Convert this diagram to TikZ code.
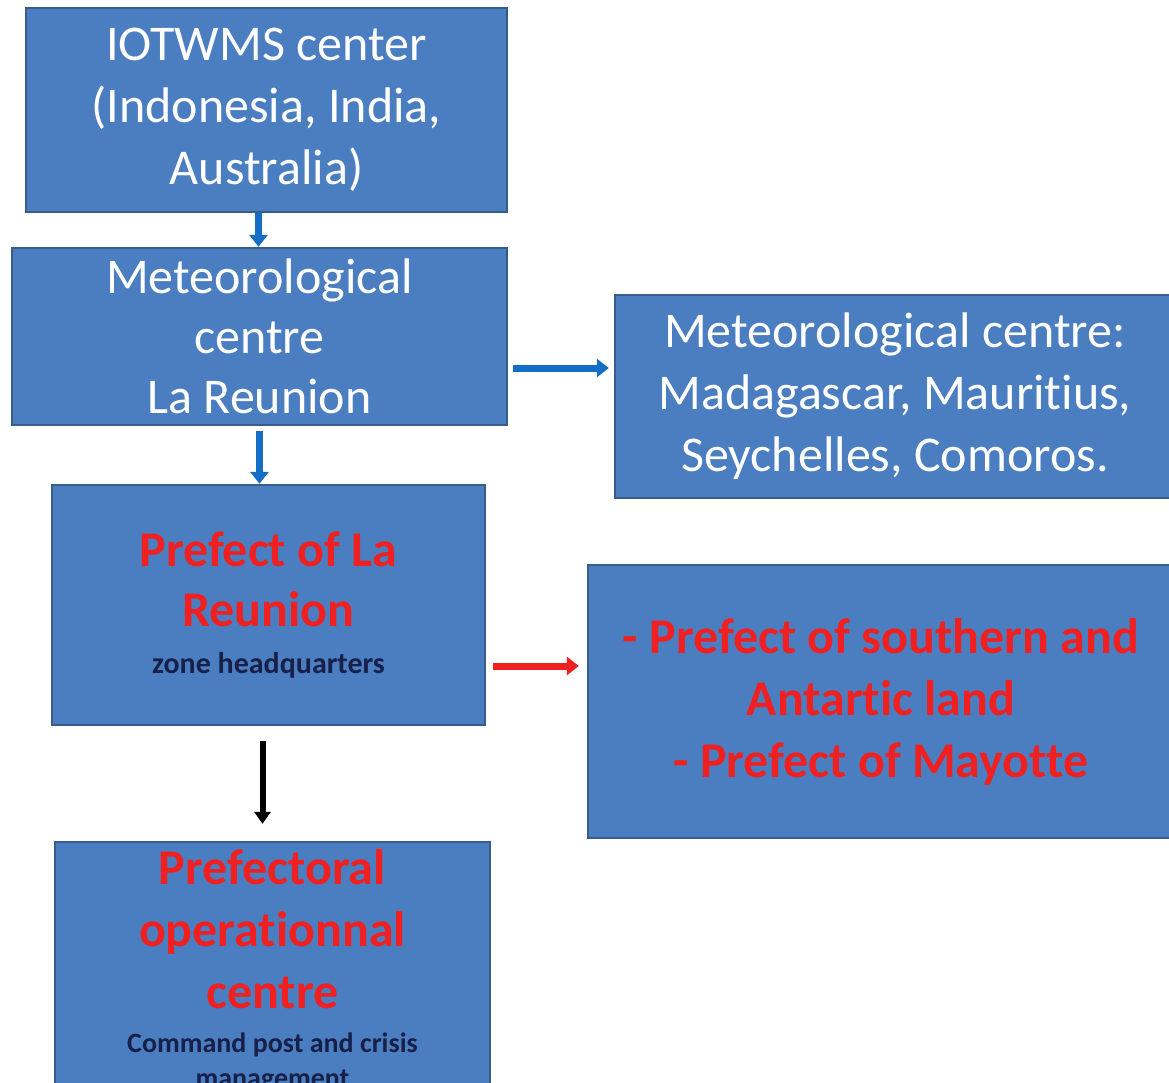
\documentclass[tikz,border=0pt]{standalone}
\usepackage{fontspec}
\setmainfont{Carlito}[Ligatures=NoCommon]
\usetikzlibrary{arrows.meta}
\definecolor{boxBlue}{RGB}{74, 126, 193}
\definecolor{boxEdge}{RGB}{56, 93, 138}
\definecolor{prefRed}{RGB}{240, 32, 32}
\definecolor{noteNavy}{RGB}{22, 32, 72}
\definecolor{arrowBlue}{RGB}{20, 110, 200}

\newcommand{\redLine}{\color{prefRed}\bfseries}
\newcommand{\noteLine}[1]{\color{noteNavy}\bfseries\fontsize{#1}{#1}\selectfont}

\begin{document}
\begin{tikzpicture}[x=0.5pt, y=-0.5pt,
  box/.style={draw=boxEdge, line width=1.2pt, fill=boxBlue, align=center,
    inner sep=0pt, text=white, font=\fontsize{25}{31}\selectfont},
  flowBlue/.style={-{Triangle[width=9pt, length=6pt]}, line width=3.5pt, draw=arrowBlue},
  flowRed/.style={-{Triangle[width=9pt, length=6pt]}, line width=3.5pt, draw=prefRed},
  flowBlack/.style={-{Triangle[width=8pt, length=6pt]}, line width=3pt, draw=black}]
\useasboundingbox (0,0) rectangle (1169,1083);
\clip (0,0) rectangle (1169,1083);

% Boxes
\node[box, minimum width=240.5pt, minimum height=102pt] (iotwms) at (266.5,110)
  {IOTWMS center\\(Indonesia, India,\\Australia)};
\node[box, minimum width=247.5pt, minimum height=88.5pt] (meteoReunion) at (259.5,336.5)
  {Meteorological\\[-1pt]centre\\[-1pt]La Reunion};
\node[box, minimum width=280pt, minimum height=101.5pt] (meteoIsles) at (895,396.5)
  {Meteorological centre:\\Madagascar, Mauritius,\\Seychelles, Comoros.};
\node[box, minimum width=216.5pt, minimum height=120pt] (prefReunion) at (268.5,605)
  {\redLine Prefect of La\\[-1pt]\redLine Reunion\\[-7.5pt]\noteLine{15}zone headquarters};
\node[box, minimum width=293pt, minimum height=136.5pt] (prefOthers) at (881,701.5)
  {\redLine - Prefect of southern and\\\redLine Antartic land\\\redLine - Prefect of Mayotte};
\node[box, minimum width=217.5pt, minimum height=129pt] (opsCentre) at (272.5,971)
  {\redLine Prefectoral\\\redLine operationnal\\\redLine centre\\[-9pt]\noteLine{14}Command post and crisis\\[-13.5pt]\noteLine{14}management};

% Arrows
\draw[flowBlue] ([xshift=-4pt]iotwms.south) -- ([xshift=-4pt]iotwms.south |- meteoReunion.north);
\draw[flowBlue] ([yshift=-2.5pt]meteoReunion.south) -- (meteoReunion.south |- prefReunion.north);
\draw[flowBlue] ([xshift=2.5pt, yshift=-15.75pt]meteoReunion.east)
  -- ([xshift=-2.5pt, yshift=-15.75pt]meteoReunion.east -| meteoIsles.west);
\draw[flowRed] ([xshift=3.5pt, yshift=-30.5pt]prefReunion.east)
  -- ([xshift=-4pt, yshift=-30.5pt]prefReunion.east -| prefOthers.west);
\draw[flowBlack] ([xshift=-3pt, yshift=-7.5pt]prefReunion.south)
  -- ([xshift=-3pt, yshift=8.5pt]prefReunion.south |- opsCentre.north);
\end{tikzpicture}
\end{document}
